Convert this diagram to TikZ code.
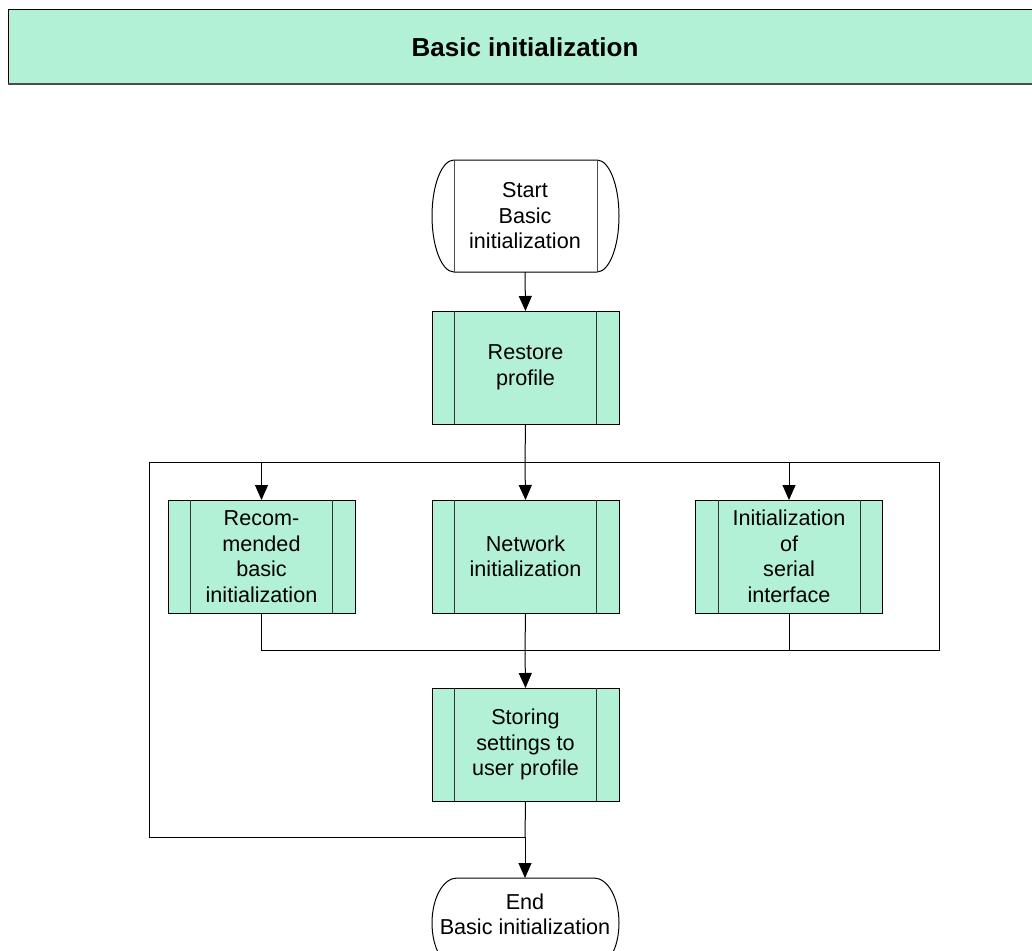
\documentclass[tikz,border=0pt]{standalone}
\usepackage{fontspec}
\setmainfont{Liberation Sans}
\usetikzlibrary{arrows.meta}
\definecolor{mint}{RGB}{179,241,214}
\tikzset{
  every node/.style={inner sep=0pt, outer sep=0pt},
  lbl/.style={align=center, font=\fontsize{21.6}{25.5}\selectfont},
  subproc/.style={lbl, draw=black, fill=mint, line width=1pt,
    minimum width=187pt, minimum height=113pt},
  term/.style={lbl, minimum width=187pt},
  wire/.style={line width=1pt, draw=black},
  arrow/.style={wire, -{Triangle[length=15pt,width=13pt]}}
}
\begin{document}
\begin{tikzpicture}[x=1pt,y=-1pt]
\useasboundingbox (0,0) rectangle (1032,950);
\clip (0,0) rectangle (1032,950);

% title bar
\fill[mint] (8,10) rectangle (1040,84);
\draw[line width=1pt] (1040,10) -- (8,10) -- (8,84);
\draw[line width=1.5pt, black!70] (8,84) -- (1040,84);
\node[font=\fontsize{26}{30}\selectfont\bfseries] (title) at (525,47) {Basic initialization};

% start terminator
\draw[line width=1pt, fill=white]
  (454,160) -- (597,160)
  .. controls (609.2,160) and (619,185.1) .. (619,216)
  .. controls (619,246.9) and (609.2,272) .. (597,272)
  -- (454,272)
  .. controls (441.8,272) and (432,246.9) .. (432,216)
  .. controls (432,185.1) and (441.8,160) .. (454,160) -- cycle;
\draw[line width=1pt, black!70] (454,160) -- (454,272) (597,160) -- (597,272);
\node[term, minimum height=112pt] (start) at (525,216) {Start\\Basic\\initialization};

% end terminator
\draw[line width=1pt, fill=white]
  (457,878) -- (594,878)
  .. controls (607.8,878) and (619,898.1) .. (619,923)
  .. controls (619,947.9) and (607.8,968) .. (594,968)
  -- (457,968)
  .. controls (443.2,968) and (432,947.9) .. (432,923)
  .. controls (432,898.1) and (443.2,878) .. (457,878) -- cycle;
\node[term, minimum height=73pt] (end) at (525,914.5) {End\\Basic initialization};

% predefined processes
\node[subproc] (restore) at (525.5,367.5) {Restore\\profile};
\node[subproc] (rec) at (261.5,556.5) {Recom-\\mended\\basic\\initialization};
\node[subproc] (net) at (525.5,556.5) {Network\\initialization};
\node[subproc] (ser) at (789,556.5) {Initialization\\of\\serial\\interface};
\node[subproc] (store) at (525.5,744.5) {Storing\\settings to\\user profile};
\foreach \n in {restore,rec,net,ser,store}{
  \draw[line width=1pt, black!80]
    ([xshift=22.5pt]\n.north west) -- ([xshift=22.5pt]\n.south west)
    ([xshift=-22.5pt]\n.north east) -- ([xshift=-22.5pt]\n.south east);
}

% junction points
\coordinate (split) at (525,462);
\coordinate (tl) at (149,462);
\coordinate (tr) at (939,462);
\coordinate (bl) at (149,837);
\coordinate (br) at (939,650);
\coordinate (j1) at (525,650);
\coordinate (j2) at (525,837);

% connectors
\draw[arrow] (start.south) -- (restore.north);
\draw[wire] (restore.south) -- (split);
\draw[wire] (tl) -- (tr);
\draw[arrow] (split) -- (net.north);
\draw[arrow] (rec.north |- split) -- (rec.north);
\draw[arrow] (ser.north |- split) -- (ser.north);
\draw[wire] (tl) -- (bl) -- (j2);
\draw[wire] (tr) -- (br) -- (rec.south |- br) -- (rec.south);
\draw[wire] (ser.south) -- (ser.south |- j1);
\draw[wire] (net.south) -- (j1);
\draw[arrow] (j1) -- (store.north);
\draw[wire] (store.south) -- (j2);
\draw[arrow] (j2) -- (end.north);
\end{tikzpicture}
\end{document}
